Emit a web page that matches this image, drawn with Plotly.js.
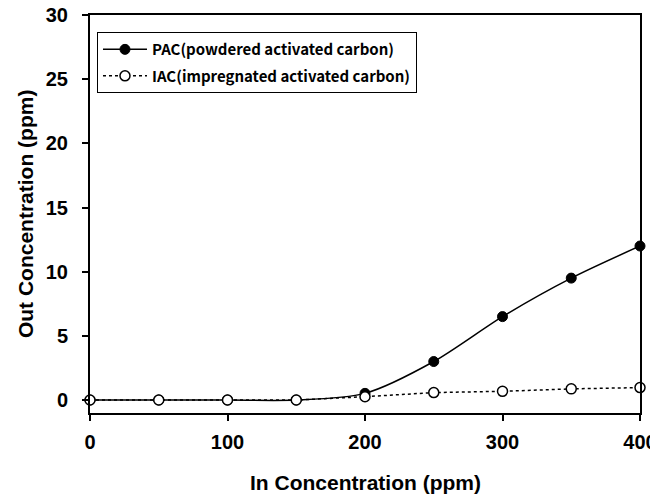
<!DOCTYPE html>
<html>
<head>
<meta charset="utf-8">
<script src="https://cdn.plot.ly/plotly-3.0.1.min.js"></script>
<style>html,body{margin:0;padding:0;background:#fff;}#chart{width:650px;height:496px;}</style>
</head>
<body>
<div id="chart"></div>
<script>
const inConc = [0, 50, 100, 150, 200, 250, 300, 350, 400];
const pacOut = [0, 0, 0, 0, 0.52, 3.0, 6.5, 9.5, 12.0];
const iacOut = [0, 0, 0, 0, 0.26, 0.58, 0.68, 0.87, 0.97];
const xTicks = [0, 100, 200, 300, 400];
const yTicks = [0, 5, 10, 15, 20, 25, 30];
const pacName = 'PAC(powdered activated carbon)';
const iacName = 'IAC(impregnated activated carbon)';
const xTitle = 'In Concentration (ppm)';
const yTitle = 'Out Concentration (ppm)';

const traces = [
  {
    x: inConc, y: pacOut, name: pacName, type: 'scatter', mode: 'lines+markers',
    legendgroup: 'a', cliponaxis: false,
    line: {color: '#000', width: 1.5, shape: 'spline', smoothing: 0.8},
    marker: {symbol: 'circle', size: 10, color: '#000', line: {color: '#000', width: 1}}
  },
  {
    x: inConc, y: iacOut, name: iacName, type: 'scatter', mode: 'lines+markers',
    legendgroup: 'b', cliponaxis: false,
    line: {color: '#000', width: 1.5, dash: 'dot'},
    marker: {symbol: 'circle', size: 10, color: '#fff', line: {color: '#000', width: 1.5}}
  }
];

const tickFont = {family: 'Liberation Sans, Arial, sans-serif', size: 20, color: '#000', weight: 'bold'};
const titleFont = {family: 'Liberation Sans, Arial, sans-serif', size: 21, color: '#000', weight: 'bold'};

const layout = {
  width: 650, height: 496,
  margin: {l: 90, r: 10, t: 15, b: 83},
  paper_bgcolor: '#fff', plot_bgcolor: '#fff',
  showlegend: true,
  legend: {
    x: 0.0127, y: 0.957, xanchor: 'left', yanchor: 'top',
    bordercolor: '#000', borderwidth: 1, bgcolor: '#fff',
    traceorder: 'grouped', tracegroupgap: 4, itemwidth: 44,
    font: {family: 'Noto Sans CJK KR, Noto Sans, sans-serif', size: 15, color: '#000', weight: 'bold'}
  },
  xaxis: {
    range: [0, 400], tickvals: xTicks, ticktext: xTicks.map(String),
    showgrid: false, zeroline: false,
    showline: true, linecolor: '#000', linewidth: 2, mirror: true,
    ticks: 'outside', ticklen: 6, tickwidth: 2, tickcolor: '#000',
    tickfont: tickFont, ticklabelstandoff: 4, ticklabeloverflow: 'allow'
  },
  yaxis: {
    range: [-1.01, 30], tickvals: yTicks, ticktext: yTicks.map(String),
    showgrid: false, zeroline: false,
    showline: true, linecolor: '#000', linewidth: 2, mirror: true,
    ticks: 'outside', ticklen: 6, tickwidth: 2, tickcolor: '#000',
    tickfont: tickFont, ticklabelstandoff: 10, ticklabeloverflow: 'allow'
  },
  annotations: [
    {text: xTitle, xref: 'paper', yref: 'paper', x: 0.5, y: -0.1734,
     xanchor: 'center', yanchor: 'middle', showarrow: false, font: titleFont},
    {text: yTitle, xref: 'paper', yref: 'paper', x: -0.118, y: 0.5, textangle: -90,
     xanchor: 'center', yanchor: 'middle', showarrow: false, font: titleFont}
  ]
};

Plotly.newPlot('chart', traces, layout, {displayModeBar: false, staticPlot: true});
</script>
</body>
</html>
